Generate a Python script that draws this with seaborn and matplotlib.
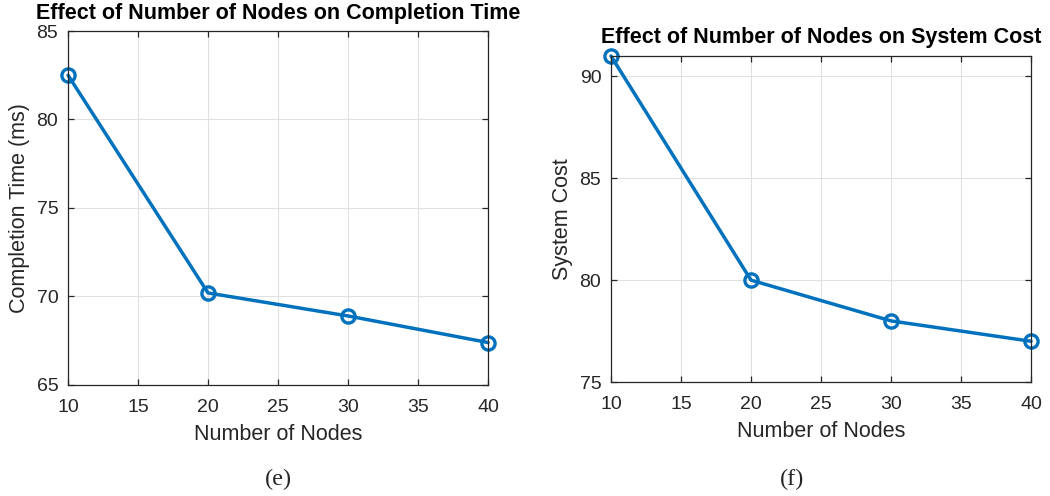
import matplotlib
matplotlib.use("Agg")
import matplotlib.pyplot as plt
import seaborn as sns
import pandas as pd

# Data
nodes = [10, 20, 30, 40]
completion_time = [82.5, 70.2, 68.9, 67.4]
system_cost = [91.0, 80.0, 78.0, 77.0]

x_ticks = [10, 15, 20, 25, 30, 35, 40]
ct_ticks = [65, 70, 75, 80, 85]
sc_ticks = [75, 80, 85, 90]

sns.set_theme(style="ticks")
plt.rcParams['font.family'] = ['Liberation Sans', 'DejaVu Sans']

blue = "#0072BD"
fig = plt.figure(figsize=(10.5, 4.96), dpi=100)
ax1 = fig.add_axes([0.0648, 0.2238, 0.4, 0.7137])
ax2 = fig.add_axes([0.5819, 0.2298, 0.4, 0.6573])

df1 = pd.DataFrame({'Nodes': nodes, 'Value': completion_time})
df2 = pd.DataFrame({'Nodes': nodes, 'Value': system_cost})


def style_axis(ax, df, yticks, ylim, title, ylabel):
    sns.lineplot(data=df, x='Nodes', y='Value', ax=ax, color=blue, linewidth=2.5,
                 marker='o', markersize=9.5, markerfacecolor='none',
                 markeredgecolor=blue, markeredgewidth=2.4, clip_on=False)
    ax.set_xlim(10, 40)
    ax.set_ylim(*ylim)
    ax.set_xticks(x_ticks)
    ax.set_yticks(yticks)
    ax.grid(True, color='#e0e0e0', linewidth=0.8)
    ax.set_axisbelow(True)
    for s in ax.spines.values():
        s.set_color('#262626')
        s.set_linewidth(0.9)
    ax.tick_params(direction='in', top=True, right=True, length=4,
                   labelsize=14, colors='#262626', width=0.9)
    ax.tick_params(axis='x', pad=10)
    ax.tick_params(axis='y', pad=7)
    ax.set_xlabel('Number of Nodes', fontsize=15.5, color='#262626', labelpad=6)
    ax.set_ylabel(ylabel, fontsize=15.5, color='#262626', labelpad=5)
    ax.set_title(title, fontsize=15.5, fontweight='bold', color='black', pad=9)


style_axis(ax1, df1, ct_ticks, (65, 85),
           'Effect of Number of Nodes on Completion Time', 'Completion Time (ms)')
style_axis(ax2, df2, sc_ticks, (75, 91),
           'Effect of Number of Nodes on System Cost', 'System Cost')

fig.text(0.265, 0.022, '(e)', fontsize=17.5, family=['Liberation Serif'], ha='center')
fig.text(0.754, 0.022, '(f)', fontsize=17.5, family=['Liberation Serif'], ha='center')

fig.savefig("out.png", dpi=100)
plt.close()
